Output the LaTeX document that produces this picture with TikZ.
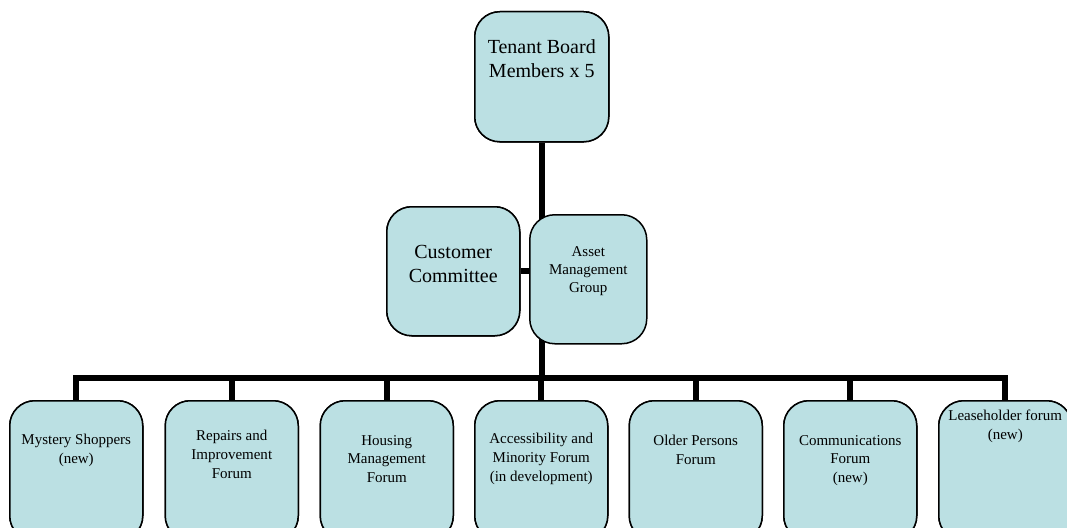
\documentclass[tikz,border=0pt]{standalone}
\usepackage{fontspec}
\setmainfont{Liberation Serif}
\definecolor{boxfill}{RGB}{187,224,227}
\begin{document}
\begin{tikzpicture}[x=1pt,y=-1pt,
  orgbox/.style={draw=black,line width=1.5pt,fill=boxfill,rounded corners=25pt,
    rectangle,inner sep=0pt,anchor=north west},
  conn/.style={draw=black,line width=6pt},
  bigtxt/.style={align=center,inner sep=0pt,anchor=north,font=\fontsize{20}{24}\selectfont},
  midtxt/.style={align=center,inner sep=0pt,anchor=north,font=\fontsize{15}{18}\selectfont},
  smalltxt/.style={align=center,inner sep=0pt,anchor=north,font=\fontsize{15}{18.8}\selectfont}]
\clip (0,0) rectangle (1067,527);
\useasboundingbox (0,0) rectangle (1067,527);
% boxes (as named nodes)
\node[orgbox,minimum width=134pt,minimum height=130pt] (top) at (474,11) {};
\node[orgbox,minimum width=133pt,minimum height=129pt] (cc) at (386,206) {};
\node[orgbox,minimum width=133pt,minimum height=140pt] (b1) at (9,400) {};
\node[orgbox,minimum width=133pt,minimum height=140pt] (b2) at (164.5,400) {};
\node[orgbox,minimum width=133pt,minimum height=140pt] (b3) at (319.5,400) {};
\node[orgbox,minimum width=133pt,minimum height=140pt] (b4) at (474,400) {};
\node[orgbox,minimum width=133pt,minimum height=140pt] (b5) at (628.5,400) {};
\node[orgbox,minimum width=133pt,minimum height=140pt] (b6) at (783,400) {};
\node[orgbox,minimum width=133pt,minimum height=140pt] (b7) at (938,400) {};
\coordinate (bus) at (top.south |- 0,378);
% connectors
\draw[conn] (top.south) -- (bus);
\draw[conn] (cc.east) -- (cc.east -| top.south);
\draw[conn,line cap=rect] (b1.north |- bus) -- (b7.north |- bus);
\foreach \b in {b1,b2,b3,b4,b5,b6,b7}{\draw[conn] (\b.north) -- (\b.north |- bus);}
% redraw boxes over connectors
\node[orgbox,minimum width=134pt,minimum height=130pt] at (474,11) {};
\node[orgbox,minimum width=133pt,minimum height=129pt] at (386,206) {};
\node[orgbox,minimum width=117pt,minimum height=129pt] (amg) at (529,214) {};
\foreach \x in {9,164.5,319.5,474,628.5,783,938}{\node[orgbox,minimum width=133pt,minimum height=140pt] at (\x,400) {};}
% texts
\node[bigtxt] (ttop) at (top.center |- 0,39) {Tenant Board\\Members x 5};
\node[bigtxt] (tcc) at (cc.center |- 0,245) {Customer\\Committee};
\node[midtxt] (tamg) at (amg.center |- 0,246) {Asset\\Management\\Group};
\node[smalltxt] (t1) at (b1.center |- 0,434) {Mystery Shoppers\\(new)};
\node[smalltxt] (t2) at (b2.center |- 0,430) {Repairs and\\Improvement\\Forum};
\node[smalltxt] (t3) at (b3.center |- 0,435) {Housing\\Management\\Forum};
\node[smalltxt] (t4) at (b4.center |- 0,433) {Accessibility and\\Minority Forum\\(in development)};
\node[smalltxt] (t5) at (b5.center |- 0,435) {Older Persons\\Forum};
\node[smalltxt] (t6) at (b6.center |- 0,435) {Communications\\Forum\\(new)};
\node[smalltxt] (t7) at (b7.center |- 0,410) {Leaseholder forum\\(new)};
\end{tikzpicture}
\end{document}
